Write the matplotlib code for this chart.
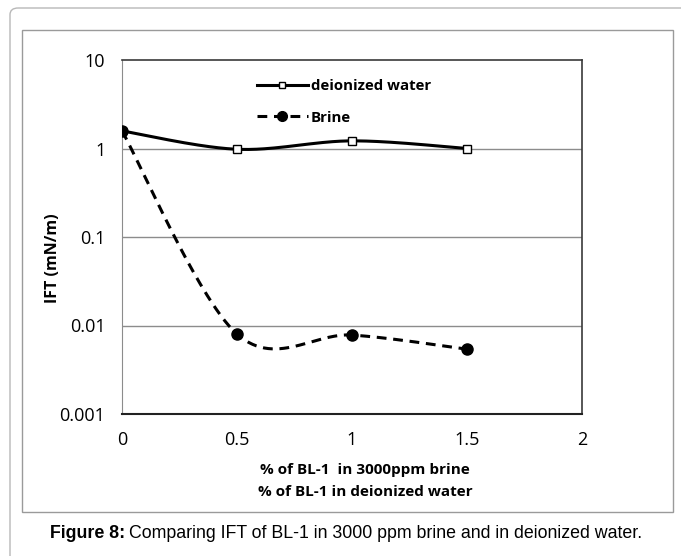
import numpy as np
import matplotlib
matplotlib.use("Agg")
import matplotlib.pyplot as plt
from matplotlib.patches import FancyBboxPatch, Rectangle

# IFT measurements (mN/m) against BL-1 concentration (%)
conc = [0, 0.5, 1, 1.5]
ift_deionized = [1.58, 0.98, 1.22, 1.0]
ift_brine = [1.58, 0.008, 0.0078, 0.0054]

x_ticks = [0, 0.5, 1, 1.5, 2]
y_ticks = [0.001, 0.01, 0.1, 1, 10]
y_ticklabels = ["0.001", "0.01", "0.1", "1", "10"]


def smooth(xs, ys, n=60):
    # Catmull-Rom style curve in (x, log10 y), like a spreadsheet "smoothed line"
    px = np.asarray(xs, float)
    py = np.log10(np.asarray(ys, float))
    out_x, out_y = [], []
    t = np.linspace(0, 1, n)
    for i in range(len(px) - 1):
        i0, i3 = max(i - 1, 0), min(i + 2, len(px) - 1)
        p0 = np.array([px[i], py[i]])
        p3 = np.array([px[i + 1], py[i + 1]])
        c1 = p0 + (np.array([px[i + 1], py[i + 1]]) - np.array([px[i0], py[i0]])) / 6
        c2 = p3 - (np.array([px[i3], py[i3]]) - np.array([px[i], py[i]])) / 6
        b = ((1 - t) ** 3)[:, None] * p0 + (3 * (1 - t) ** 2 * t)[:, None] * c1 \
            + (3 * (1 - t) * t ** 2)[:, None] * c2 + (t ** 3)[:, None] * p3
        out_x.extend(b[:, 0])
        out_y.extend(b[:, 1])
    return np.array(out_x), 10 ** np.array(out_y)


W, H = 681, 556
fig = plt.figure(figsize=(W / 100, H / 100), dpi=100)

# outer rounded frame and chart-area border
fig.patches.append(FancyBboxPatch((10 / W, -0.1), 1.0, 1.1 - 8 / H,
                                  boxstyle="round,pad=0,rounding_size=0.012",
                                  transform=fig.transFigure, fill=False,
                                  edgecolor="#b8b8b8", linewidth=1.0))
fig.patches.append(Rectangle((22 / W, 1 - 512 / H), (673 - 22) / W, (512 - 30) / H,
                             transform=fig.transFigure, fill=False,
                             edgecolor="#9a9a9a", linewidth=1.0))

ax = fig.add_axes([122 / W, 1 - 414 / H, (582 - 122) / W, (414 - 60) / H])
ax.set_yscale("log")
ax.set_xlim(0, 2)
ax.set_ylim(0.001, 10)

for v in y_ticks[1:-1]:
    ax.axhline(v, color="#8c8c8c", linewidth=1.0, zorder=0)

tick_font = dict(family="Open Sans", size=13)
ax.set_xticks(x_ticks)
ax.set_xticklabels([("%g" % v) for v in x_ticks], **tick_font)
ax.set_yticks(y_ticks)
ax.set_yticklabels(y_ticklabels, **tick_font)
ax.minorticks_off()
ax.tick_params(axis="y", length=0, pad=12)
ax.tick_params(axis="x", length=0, pad=12)

for side in ["top", "right"]:
    ax.spines[side].set_color("#3a3a3a")
    ax.spines[side].set_linewidth(1.2)
ax.spines["left"].set_color("#8c8c8c")
ax.spines["bottom"].set_color("#222222")
ax.spines["bottom"].set_linewidth(1.5)

dash = (0, (3.2, 2.2))

sx, sy = smooth(conc, ift_deionized)
ax.plot(sx, sy, color="black", linewidth=2.2, zorder=3)
ax.plot(conc, ift_deionized, linestyle="none", marker="s", markersize=6,
        markerfacecolor="white", markeredgecolor="black", markeredgewidth=1.0, zorder=4)

bx, by = smooth(conc, ift_brine)
ax.plot(bx, by, color="black", linewidth=2.2, linestyle=dash, zorder=3)
ax.plot(conc, ift_brine, linestyle="none", marker="o", markersize=8,
        color="black", zorder=4)

# legend entries
h1, = ax.plot([], [], color="black", linewidth=2.2, marker="s", markersize=5,
              markerfacecolor="white", markeredgecolor="black", markeredgewidth=1.0)
h2, = ax.plot([], [], color="black", linewidth=2.2, linestyle=dash,
              marker="o", markersize=7)
ax.legend([h1, h2], ["deionized water", "Brine"], loc="upper left",
          bbox_to_anchor=(0.27, 0.975), frameon=False, handlelength=3.4,
          handletextpad=0.2, labelspacing=1.15, borderaxespad=0.3,
          prop=dict(family="Open Sans", size=10.8, weight="bold"))

fig.text(53 / W, 1 - 258 / H, "IFT (mN/m)", rotation=90, ha="center", va="center",
         family="Open Sans", size=11.5, weight="bold")
fig.text(365 / W, 1 - 470 / H, "% of BL-1  in 3000ppm brine", ha="center", va="center",
         family="Open Sans", size=11, weight="bold")
fig.text(365 / W, 1 - 492 / H, "% of BL-1 in deionized water", ha="center", va="center",
         family="Open Sans", size=11, weight="bold")

# caption below the chart
cap_y = 1 - 534 / H
t1 = fig.text(50 / W, cap_y, "Figure 8:", ha="left", va="center",
              family="Liberation Sans", size=12.8, weight="bold")
fig.canvas.draw()
bb = t1.get_window_extent()
fig.text(bb.x1 / W + 4 / W, cap_y, "Comparing IFT of BL-1 in 3000 ppm brine and in deionized water.",
         ha="left", va="center", family="Liberation Sans", size=12.8)

fig.savefig("out.png", dpi=100)
